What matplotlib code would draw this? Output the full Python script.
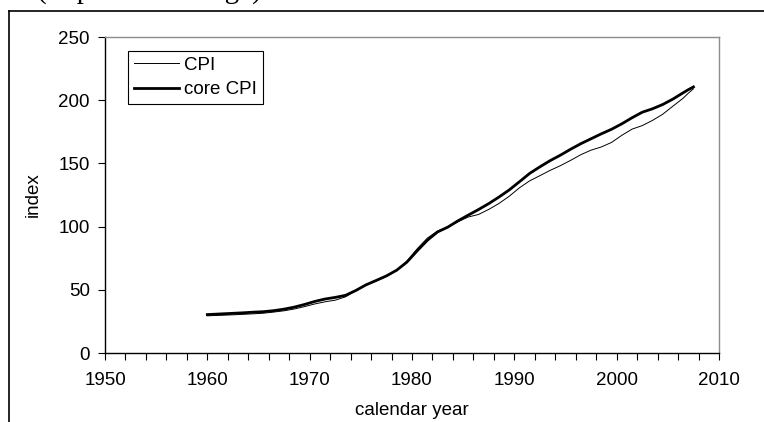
import matplotlib
matplotlib.use("Agg")
import matplotlib.pyplot as plt
from matplotlib.lines import Line2D
from matplotlib.ticker import MultipleLocator

plt.rcParams['font.family'] = ['Liberation Sans', 'DejaVu Sans']

# decimal-year dates (start of 1960, then mid-year annual readings, end mid-2007)
dates = [1960.0, 1960.5, 1961.5, 1962.5, 1963.5, 1964.5, 1965.5, 1966.5, 1967.5,
         1968.5, 1969.5, 1970.5, 1971.5, 1972.5, 1973.5, 1974.5, 1975.5, 1976.5,
         1977.5, 1978.5, 1979.5, 1980.5, 1981.5, 1982.5, 1983.5, 1984.5, 1985.5,
         1986.5, 1987.5, 1988.5, 1989.5, 1990.5, 1991.5, 1992.5, 1993.5, 1994.5,
         1995.5, 1996.5, 1997.5, 1998.5, 1999.5, 2000.5, 2001.5, 2002.5, 2003.5,
         2004.5, 2005.5, 2006.5, 2007.0, 2007.5]

cpi = [29.4, 29.6, 29.9, 30.2, 30.6, 31.0, 31.5, 32.4, 33.4, 34.8, 36.7, 38.8,
       40.5, 41.8, 44.4, 49.3, 53.8, 56.9, 60.6, 65.2, 72.6, 82.4, 90.9, 96.5,
       99.6, 103.9, 107.6, 109.6, 113.6, 118.3, 124.0, 130.7, 136.2, 140.3,
       144.5, 148.2, 152.4, 156.9, 160.5, 163.0, 166.6, 172.2, 177.1, 179.9,
       184.0, 188.9, 195.3, 201.6, 205.5, 209.0]

core = [30.4, 30.6, 31.0, 31.4, 31.8, 32.3, 32.7, 33.5, 34.7, 36.3, 38.4, 40.8,
        42.7, 44.0, 45.6, 49.4, 53.9, 57.4, 61.0, 65.5, 71.9, 80.8, 89.2, 95.8,
        99.6, 104.6, 109.1, 113.5, 118.2, 123.4, 129.0, 135.5, 142.1, 147.3,
        152.2, 156.5, 161.2, 165.6, 169.5, 173.4, 177.0, 181.3, 186.1, 190.5,
        193.2, 196.6, 200.9, 205.9, 208.3, 210.5]

x_ticks = [1950, 1960, 1970, 1980, 1990, 2000, 2010]
y_ticks = [0, 50, 100, 150, 200, 250]

fig = plt.figure(figsize=(7.64, 4.22), dpi=100)
ax = fig.add_axes([105/764, 1-353/422, 614/764, 316/422])

ax.plot(dates, cpi, color='black', lw=0.7, label='CPI')
ax.plot(dates, core, color='black', lw=2.0, label='core CPI')

ax.set_xlim(1950, 2010)
ax.set_ylim(0, 250)
ax.set_xticks(x_ticks)
ax.set_yticks(y_ticks)
ax.xaxis.set_minor_locator(MultipleLocator(2))

fs = 13.5
ax.tick_params(axis='both', which='both', direction='out', length=5, width=0.8,
               labelsize=fs, pad=6, color='black')
ax.tick_params(axis='x', which='both', pad=9)

for s in ['top', 'right']:
    ax.spines[s].set_color('#8c8c8c')
    ax.spines[s].set_linewidth(1.0)
for s in ['left', 'bottom']:
    ax.spines[s].set_color('black')
    ax.spines[s].set_linewidth(1.0)

ax.set_xlabel('calendar year', fontsize=fs, labelpad=9)
ax.set_ylabel('index', fontsize=fs, labelpad=12)

leg = ax.legend(loc='upper left', bbox_to_anchor=(0.0375, 0.956), fontsize=fs,
                frameon=True, fancybox=False, edgecolor='black', framealpha=1,
                borderpad=0.3, labelspacing=0.4, handlelength=2.4,
                handletextpad=0.3, borderaxespad=0.0)
leg.get_frame().set_linewidth(0.8)

# outer frame lines (top and left)
fig.add_artist(Line2D([9/764, 1.0], [1-10.5/422, 1-10.5/422], color='black', lw=1.2,
                      transform=fig.transFigure))
fig.add_artist(Line2D([9/764, 9/764], [0, 1-10.5/422], color='black', lw=1.2,
                      transform=fig.transFigure))

# heading, clipped at the very top as in the reference
fig.text(37/764, 1+2/422, '(in percent change)', family=['Liberation Serif'],
         fontsize=21, va='baseline', ha='left')

fig.savefig('out.png', dpi=100)
